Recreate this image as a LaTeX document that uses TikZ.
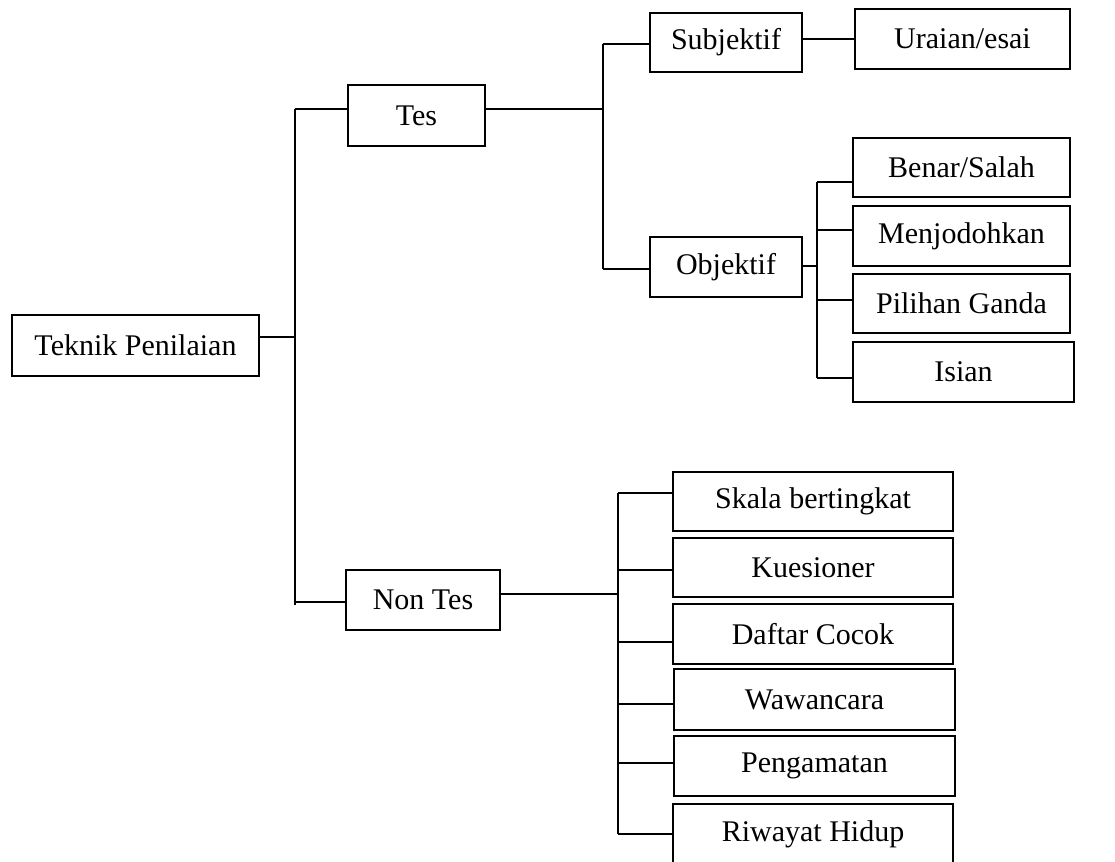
\documentclass[tikz,border=0pt]{standalone}
\usepackage{fontspec}
\setmainfont{Liberation Serif}
\begin{document}
\begin{tikzpicture}[x=1pt,y=-1pt,
  box/.style={draw,line width=1.8pt,inner sep=0pt,font=\fontsize{30}{36}\selectfont},
  conn/.style={line width=1.8pt}]
\useasboundingbox (0,0) rectangle (1115,861);
% boxes
\node[box,minimum width=247pt,minimum height=61pt] (tp) at (135.5,345.5) {Teknik Penilaian};
\node[box,minimum width=137pt,minimum height=61pt] (tes) at (416.5,115.5) {Tes};
\node[box,minimum width=154pt,minimum height=60pt] (non) at (423,600) {Non Tes};
\node[box,minimum width=152pt,minimum height=59pt] (subj) at (726,42.5) {Subjektif};
\node[box,minimum width=152pt,minimum height=60pt] (obj) at (726,267) {Objektif};
\node[box,minimum width=215pt,minimum height=60pt] (ura) at (962.5,39) {Uraian/esai};
\node[box,minimum width=217pt,minimum height=59pt] (bs) at (961.5,167.5) {Benar/Salah};
\node[box,minimum width=217pt,minimum height=60pt] (mj) at (961.5,236) {Menjodohkan};
\node[box,minimum width=217pt,minimum height=59pt] (pg) at (961.5,303.5) {Pilihan Ganda};
\node[box,minimum width=221pt,minimum height=60pt] (is) at (963.5,372) {Isian};
\node[box,minimum width=280pt,minimum height=59pt] (sk) at (813,501.5) {Skala bertingkat};
\node[box,minimum width=280pt,minimum height=59pt] (ku) at (813,567.5) {Kuesioner};
\node[box,minimum width=280pt,minimum height=60pt] (dc) at (813,634) {Daftar Cocok};
\node[box,minimum width=281pt,minimum height=61pt] (ww) at (814.5,699.5) {Wawancara};
\node[box,minimum width=281pt,minimum height=60pt] (pe) at (814.5,766) {Pengamatan};
\node[box,minimum width=280pt,minimum height=60pt] (rh) at (813,834) {Riwayat Hidup};
% junction coordinates
\coordinate (j0) at (295,337);
\coordinate (t1) at (295,109);
\coordinate (t2) at (295,605);
\coordinate (jn) at (295,602);
\coordinate (k0) at (603,109);
\coordinate (k1) at (603,44);
\coordinate (k2) at (603,269);
\coordinate (o0) at (817,266);
\coordinate (o1) at (817,182);
\coordinate (o2) at (817,230);
\coordinate (o3) at (817,300);
\coordinate (o4) at (817,378);
\coordinate (n0) at (618,594);
\coordinate (n1) at (618,493);
\coordinate (n2) at (618,570);
\coordinate (n3) at (618,642);
\coordinate (n4) at (618,704);
\coordinate (n5) at (618,763);
\coordinate (n6) at (618,834);
% connectors
\draw[conn] (j0 -| tp.east) -- (j0);
\draw[conn] (t1) -- (t2);
\draw[conn] (t1) -- (t1 -| tes.west);
\draw[conn] (jn) -- (jn -| non.west);
\draw[conn] (k0 -| tes.east) -- (k0);
\draw[conn] (k1) -- (k2);
\draw[conn] (k1) -- (k1 -| subj.west);
\draw[conn] (k2) -- (k2 -| obj.west);
\draw[conn] (subj.east |- 0,39) -- (ura.west);
\draw[conn] (o0 -| obj.east) -- (o0);
\draw[conn] (o1) -- (o4);
\draw[conn] (o1) -- (o1 -| bs.west);
\draw[conn] (o2) -- (o2 -| mj.west);
\draw[conn] (o3) -- (o3 -| pg.west);
\draw[conn] (o4) -- (o4 -| is.west);
\draw[conn] (n0 -| non.east) -- (n0);
\draw[conn] (n1) -- (n6);
\draw[conn] (n1) -- (n1 -| sk.west);
\draw[conn] (n2) -- (n2 -| ku.west);
\draw[conn] (n3) -- (n3 -| dc.west);
\draw[conn] (n4) -- (n4 -| ww.west);
\draw[conn] (n5) -- (n5 -| pe.west);
\draw[conn] (n6) -- (n6 -| rh.west);
\end{tikzpicture}
\end{document}
